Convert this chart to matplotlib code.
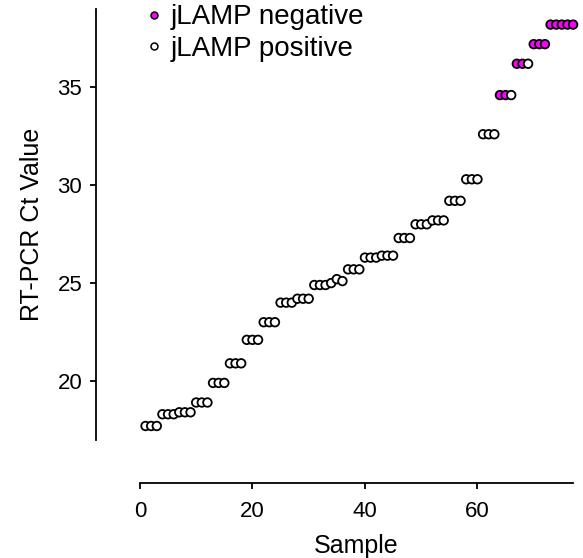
import numpy as np
import matplotlib.pyplot as plt
from matplotlib.lines import Line2D

plt.rcParams['font.family'] = ['Liberation Sans', 'DejaVu Sans']

# RT-PCR Ct value per sample, sorted
ct = [17.7, 17.7, 17.7,
      18.3, 18.3, 18.3, 18.4, 18.4, 18.4,
      18.9, 18.9, 18.9,
      19.9, 19.9, 19.9,
      20.9, 20.9, 20.9,
      22.1, 22.1, 22.1,
      23.0, 23.0, 23.0,
      24.0, 24.0, 24.0, 24.2, 24.2, 24.2,
      24.9, 24.9, 24.9, 25.0, 25.2, 25.1,
      25.7, 25.7, 25.7,
      26.3, 26.3, 26.3, 26.4, 26.4, 26.4,
      27.3, 27.3, 27.3,
      28.0, 28.0, 28.0, 28.2, 28.2, 28.2,
      29.2, 29.2, 29.2,
      30.3, 30.3, 30.3,
      32.6, 32.6, 32.6,
      34.6, 34.6, 34.6,
      36.2, 36.2, 36.2,
      37.2, 37.2, 37.2,
      38.2, 38.2, 38.2, 38.2, 38.2]
# 1 = jLAMP negative, 0 = jLAMP positive
negative = [0] * 63 + [1, 1, 0, 1, 1, 0, 1, 1, 1, 1, 1, 1, 1, 1]

sample = np.arange(1, len(ct) + 1)
pink = '#ff00ff'
colors = [pink if n else 'white' for n in negative]

fig = plt.figure(figsize=(5.83, 5.58), dpi=100)
ax = fig.add_axes([0.240, 0.212, 0.743, 0.772])

ax.scatter(sample, ct, s=38, c=colors, edgecolors='black', linewidths=1.3,
           clip_on=False, zorder=3)

ax.set_xlim(0, 77)
ax.set_ylim(17, 39)
ax.set_xticks([0, 20, 40, 60])
ax.set_yticks([20, 25, 30, 35])

for s in ['top', 'right']:
    ax.spines[s].set_visible(False)
ax.spines['left'].set_position(('outward', 31.5))
ax.spines['bottom'].set_position(('outward', 31))
for s in ['left', 'bottom']:
    ax.spines[s].set_linewidth(1.3)
ax.tick_params(width=1.3, length=4, labelsize=16, colors='black', pad=6)
ax.tick_params(axis='x', pad=9)

ax.set_xlabel('Sample', fontsize=18, labelpad=9)
ax.set_ylabel('RT-PCR Ct Value', fontsize=18, labelpad=10)

handles = [Line2D([], [], marker='o', ls='none', markersize=5, markerfacecolor=pink,
                  markeredgecolor='black', markeredgewidth=1.1),
           Line2D([], [], marker='o', ls='none', markersize=5, markerfacecolor='white',
                  markeredgecolor='black', markeredgewidth=1.1)]
fig.legend(handles, ['jLAMP negative', 'jLAMP positive'], loc='upper left',
           bbox_to_anchor=(0.207, 1.037), frameon=False, fontsize=20,
           handlelength=0.6, handletextpad=0.3, labelspacing=0.2)

fig.savefig('out.png', dpi=100)
